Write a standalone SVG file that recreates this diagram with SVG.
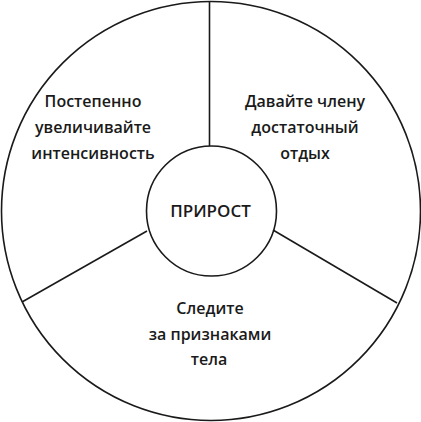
<svg xmlns="http://www.w3.org/2000/svg" width="421" height="422" viewBox="0 0 421 422">
<style>
.ln{fill:none;stroke:#1a1a1a;stroke-width:1.6}
.t{font-family:"Open Sans","DejaVu Sans",sans-serif;font-weight:600;font-size:16px;fill:#1a1a1a;text-anchor:middle}
.c{font-size:17px}
</style>
<rect width="421" height="422" fill="#ffffff"/>
<g id="outer"><circle class="ln" cx="211" cy="211" r="209.5"/></g>
<g id="connectors">
<line class="ln" x1="209.5" y1="1.5" x2="209.5" y2="146"/>
<line class="ln" x1="147" y1="231" x2="22" y2="302"/>
<line class="ln" x1="273" y1="230" x2="397" y2="303"/>
</g>
<g id="center"><circle class="ln" cx="211.5" cy="211" r="65"/>
<text class="t c" x="210.5" y="216.5">ПРИРОСТ</text></g>
<g id="left">
<text class="t" x="93" y="107">Постепенно</text>
<text class="t" x="93" y="133">увеличивайте</text>
<text class="t" x="93" y="159">интенсивность</text>
</g>
<g id="right">
<text class="t" x="305" y="107">Давайте члену</text>
<text class="t" x="305" y="133">достаточный</text>
<text class="t" x="305" y="159">отдых</text>
</g>
<g id="bottom">
<text class="t" x="210" y="314">Следите</text>
<text class="t" x="210" y="340">за признаками</text>
<text class="t" x="209" y="365">тела</text>
</g>
</svg>
